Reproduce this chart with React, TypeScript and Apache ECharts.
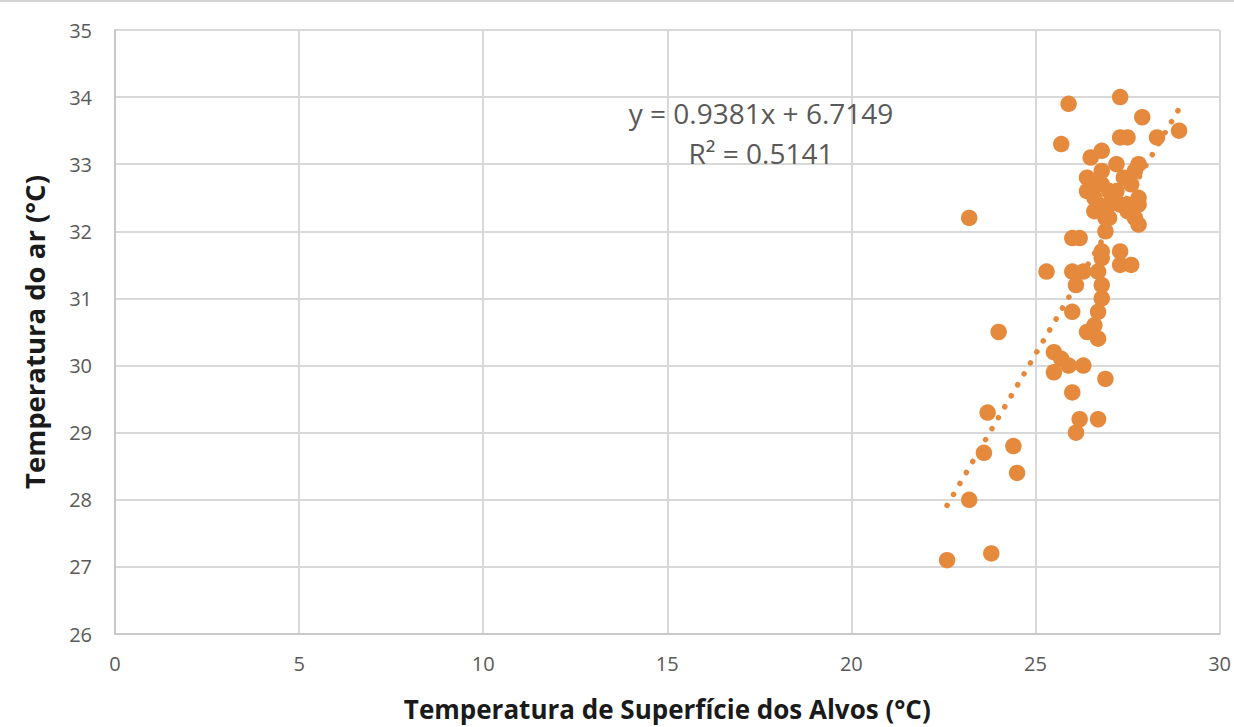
import React, { useEffect, useRef } from "react";
import * as echarts from "echarts";

// Surface temperature of targets (°C) vs. air temperature (°C)
const surfaceTemp: number[] = [
  22.6, 23.8, 23.2, 23.6, 23.7, 24.4, 24.5, 24.0, 23.2, 25.3,
  25.5, 25.5, 25.7, 25.9, 26.3, 26.0, 26.1, 26.2, 26.7, 26.9,
  26.0, 26.1, 26.0, 26.0, 26.2, 25.7, 25.9, 27.3, 27.9, 28.3,
  28.9, 27.3, 27.5, 27.8, 27.2, 26.5, 26.8, 26.4, 26.8, 27.4,
  27.7, 26.4, 26.8, 27.6, 27.8, 26.7, 27.1, 27.3, 27.8, 26.9,
  27.7, 27.8, 26.9, 26.9, 26.8, 27.3, 26.8, 27.3, 27.6, 26.8,
  26.8, 26.7, 26.6, 26.7, 26.4, 26.3, 26.7, 26.6, 27.0, 27.1,
  26.6, 27.2, 27.5, 27.0, 27.5, 26.6, 27.0,
];
const airTemp: number[] = [
  27.1, 27.2, 28.0, 28.7, 29.3, 28.8, 28.4, 30.5, 32.2, 31.4,
  30.2, 29.9, 30.1, 30.0, 30.0, 29.6, 29.0, 29.2, 29.2, 29.8,
  30.8, 31.2, 31.4, 31.9, 31.9, 33.3, 33.9, 34.0, 33.7, 33.4,
  33.5, 33.4, 33.4, 33.0, 33.0, 33.1, 33.2, 32.8, 32.9, 32.8,
  32.9, 32.6, 32.7, 32.7, 32.5, 32.4, 32.5, 32.4, 32.4, 32.3,
  32.2, 32.1, 32.2, 32.0, 31.7, 31.7, 31.6, 31.5, 31.5, 31.2,
  31.0, 30.8, 30.6, 30.4, 30.5, 31.4, 31.4, 32.7, 32.6, 32.5,
  32.5, 32.6, 32.4, 32.4, 32.3, 32.3, 32.2,
];

// Linear trend line fitted to the data
const slope = 0.9381;
const intercept = 6.7149;
const rSquared = 0.5141;

const xTicks = { min: 0, max: 30, interval: 5 };
const yTicks = { min: 26, max: 35, interval: 1 };

const ORANGE = "#E5893D";
const GRID = "#D9D9D9";
const FONT = "'Open Sans', 'Liberation Sans', sans-serif";

export default function App() {
  const ref = useRef<HTMLDivElement>(null);

  useEffect(() => {
    if (!ref.current) return;
    const chart = echarts.init(ref.current, undefined, { renderer: "svg" });

    const points = surfaceTemp.map((x, i) => [x, airTemp[i]]);
    const xMin = Math.min(...surfaceTemp);
    const xMax = Math.max(...surfaceTemp);
    const trend = [
      [xMin, slope * xMin + intercept],
      [xMax, slope * xMax + intercept],
    ];

    chart.setOption({
      animation: false,
      backgroundColor: "#ffffff",
      grid: { left: 115, right: 13, top: 30, bottom: 91, containLabel: false },
      xAxis: {
        type: "value",
        min: xTicks.min,
        max: xTicks.max,
        interval: xTicks.interval,
        name: "Temperatura de Superfície dos Alvos (°C)",
        nameLocation: "middle",
        nameGap: 62,
        nameTextStyle: { fontFamily: FONT, fontSize: 26, fontWeight: "bold", color: "#1a1a1a" },
        axisLine: { show: true, lineStyle: { color: "#C9C9C9", width: 2 } },
        axisTick: { show: false },
        axisLabel: { fontFamily: FONT, fontSize: 20, color: "#595959", margin: 19 },
        splitLine: { show: true, lineStyle: { color: GRID, width: 2 } },
      },
      yAxis: {
        type: "value",
        min: yTicks.min,
        max: yTicks.max,
        interval: yTicks.interval,
        name: "Temperatura do ar (°C)",
        nameLocation: "middle",
        nameGap: 67,
        nameTextStyle: { fontFamily: FONT, fontSize: 27.5, fontWeight: "bold", color: "#1a1a1a" },
        axisLine: { show: true, lineStyle: { color: "#C9C9C9", width: 2 } },
        axisTick: { show: false },
        axisLabel: { fontFamily: FONT, fontSize: 20, color: "#595959", margin: 23 },
        splitLine: { show: true, lineStyle: { color: GRID, width: 2 } },
      },
      series: [
        {
          type: "scatter",
          data: points,
          symbol: "circle",
          symbolSize: 16.5,
          itemStyle: { color: ORANGE, opacity: 1 },
          z: 3,
        },
        {
          type: "line",
          data: trend,
          showSymbol: false,
          symbol: "none",
          lineStyle: { color: ORANGE, width: 5.5, type: [0.1, 12.6], cap: "round" },
          z: 4,
        },
      ],
      graphic: [
        {
          type: "rect",
          left: 0,
          top: 0,
          shape: { width: 1234, height: 2 },
          style: { fill: "#D4D4D4" },
        },
        {
          type: "text",
          x: 761,
          y: 113,
          style: {
            text: `y = ${slope}x + ${intercept}`,
            fontFamily: FONT,
            fontSize: 28,
            fill: "#595959",
            align: "center",
            verticalAlign: "middle",
          },
          z: 10,
        },
        {
          type: "text",
          x: 761,
          y: 153,
          style: {
            text: `R² = ${rSquared}`,
            fontFamily: FONT,
            fontSize: 28,
            fill: "#595959",
            align: "center",
            verticalAlign: "middle",
          },
          z: 10,
        },
      ],
    });

    return () => chart.dispose();
  }, []);

  return (
    <div
      ref={ref}
      style={{ position: "fixed", left: 0, top: 0, width: 1234, height: 727, background: "#fff" }}
    />
  );
}
